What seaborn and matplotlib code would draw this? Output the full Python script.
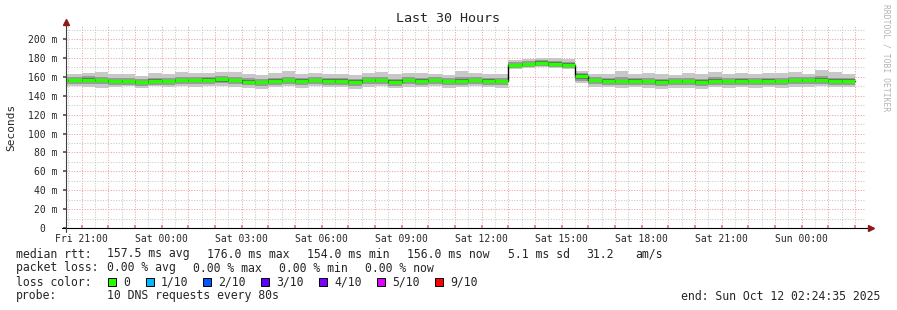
import numpy as np
import pandas as pd
import matplotlib
matplotlib.use("Agg")
import matplotlib.pyplot as plt
import matplotlib.dates as mdates
from matplotlib.ticker import MultipleLocator, FuncFormatter
from matplotlib.patches import Rectangle
from matplotlib.lines import Line2D
import seaborn as sns

# ---------------- data ----------------
seg_start = "2025-10-10 20:00"
seg_freq = "30min"
view_start = pd.Timestamp("2025-10-10 20:24:35")
view_end = pd.Timestamp("2025-10-12 02:24:35")

median = [156.5, 156.5, 157.0, 156.8, 155.8, 155.5, 154.5, 156.0, 155.5, 156.8, 156.5,
          157.0, 157.5, 156.5, 155.0, 154.5, 156.0, 156.5, 156.0, 156.5, 156.0,
          156.0, 155.0, 156.5, 156.5, 155.0, 156.5, 156.0, 156.5, 155.5, 156.0, 156.5,
          156.0, 155.5,
          172.5, 173.5, 175.0, 174.0, 173.0,
          161.0,
          156.5,
          156.0, 155.5, 156.0, 155.5, 155.0, 155.5, 155.5, 155.0, 156.0, 155.5, 156.0,
          155.5, 156.0, 155.5, 156.5, 156.5, 157.0, 156.0, 156.0]

outer_hi = [163, 163, 164, 165, 163, 163, 161, 164, 163, 165, 164,
            164, 165, 165, 163, 162, 164, 166, 163, 164, 163,
            163, 162, 164, 165, 163, 164, 164, 163, 162, 166, 164,
            163, 163,
            178, 179, 180, 180, 179,
            166,
            163,
            163, 166, 163, 164, 163, 162, 164, 163, 165, 163, 164,
            163, 164, 164, 165, 163, 167, 165, 163]
outer_lo = [149, 150, 149, 148, 149, 150, 148, 150, 149, 150, 149,
            150, 150, 149, 148, 147, 149, 150, 148, 150, 149,
            149, 147, 149, 150, 148, 149, 149, 150, 148, 149, 150,
            149, 148,
            168, 169, 170, 169, 168,
            153,
            149,
            149, 148, 149, 148, 147, 148, 148, 147, 149, 148, 149,
            148, 149, 148, 149, 149, 150, 149, 149]
mid_hi = [160, 160, 161, 160, 159, 159, 158, 159, 159, 160, 160,
          160, 161, 160, 159, 158, 159, 160, 159, 160, 159,
          159, 158, 160, 160, 158, 160, 159, 160, 159, 160, 160,
          159, 159,
          176, 177, 178, 177, 176,
          164,
          160,
          159, 160, 159, 159, 158, 159, 159, 158, 160, 159, 159,
          159, 159, 159, 160, 160, 161, 159, 159]
mid_lo = [152, 152, 152, 152, 151, 151, 150, 151, 151, 152, 152,
          152, 153, 152, 151, 150, 151, 152, 151, 152, 151,
          151, 150, 152, 152, 150, 152, 151, 152, 151, 151, 152,
          151, 151,
          169, 170, 171, 170, 169,
          156,
          152,
          151, 151, 151, 151, 150, 151, 151, 150, 151, 151, 151,
          151, 151, 151, 152, 152, 152, 151, 151]
dark_hi = [158, 158, 158.5, 158, 157, 157, 156, 157.5, 157, 158, 158,
           158.5, 159, 158, 156.5, 156, 157.5, 158, 157.5, 158, 157.5,
           157.5, 156.5, 158, 158, 156.5, 158, 157.5, 158, 157, 157.5, 158,
           157.5, 157,
           174, 175, 176.5, 175.5, 174.5,
           162.5,
           158,
           157.5, 157, 157.5, 157, 156.5, 157, 157, 156.5, 157.5, 157, 157.5,
           157, 157.5, 157, 158, 158, 158.5, 157.5, 157.5]
dark_lo = [154, 154, 154, 154, 153, 153, 152, 153, 153, 154, 154,
           154, 155, 154, 152, 152, 153, 154, 153, 154, 153,
           153, 152, 154, 154, 152, 154, 153, 154, 153, 153, 154,
           153, 153,
           170, 171, 172, 171, 170,
           158,
           154,
           153, 153, 153, 153, 152, 153, 153, 152, 153, 153, 153,
           153, 153, 153, 154, 154, 154, 153, 153]

y_ticks = [0, 20, 40, 60, 80, 100, 120, 140, 160, 180, 200]

title = "Last 30 Hours"
y_label = "Seconds"
watermark = "RRDTOOL / TOBI OETIKER"
rtt_items = ["median rtt:", "157.5 ms avg", "176.0 ms max", "154.0 ms min",
             "156.0 ms now", "5.1 ms sd", "31.2", "am/s"]
loss_items = ["packet loss:", "0.00 % avg", "0.00 % max", "0.00 % min", "0.00 % now"]
loss_labels = ["0", "1/10", "2/10", "3/10", "4/10", "5/10", "9/10"]
loss_colors = ["#26ff00", "#00b8ff", "#0059ff", "#5e00ff", "#7e00ff", "#dd00ff", "#ff0000"]
probe_text = "10 DNS requests every 80s"
end_text = "end: Sun Oct 12 02:24:35 2025"

# ---------------- style ----------------
sns.set_theme(style="white")
plt.rcParams["font.family"] = ["DejaVu Sans Mono"]

W, H = 897, 310
fig = plt.figure(figsize=(W / 100, H / 100), dpi=100)
fig.patch.set_facecolor("white")


def fx(px):
    return px / W


def fy(py):
    return 1 - py / H


ax = fig.add_axes([fx(66), fy(228), fx(866) - fx(66), fy(26) - fy(228)])
ax.set_facecolor("white")

edges = pd.date_range(seg_start, periods=len(median) + 1, freq=seg_freq)


def ext(a):
    a = np.asarray(a, dtype=float)
    return np.append(a, a[-1])


ax.fill_between(edges, ext(outer_lo), ext(outer_hi), step="post", color="#c8c8c8", lw=0, zorder=2)
ax.fill_between(edges, ext(mid_lo), ext(mid_hi), step="post", color="#9a9a9a", lw=0, zorder=3)
ax.fill_between(edges, ext(dark_lo), ext(dark_hi), step="post", color="#636363", lw=0, zorder=4)

sns.lineplot(x=edges, y=ext(median), drawstyle="steps-post", color="black", lw=1.0,
             ax=ax, estimator=None, zorder=5)
ax.hlines(median, edges[:-1], edges[1:], color=loss_colors[0], lw=2.5, zorder=6)

ax.set_xlim(view_start, view_end)
ax.set_ylim(0, 213.8)

# grid
ax.xaxis.set_major_locator(mdates.HourLocator(interval=1))
ax.xaxis.set_minor_locator(mdates.MinuteLocator(byminute=[30]))


def xfmt(v, pos):
    d = mdates.num2date(v)
    return d.strftime("%a %H:%M") if d.hour % 3 == 0 else ""


ax.xaxis.set_major_formatter(FuncFormatter(xfmt))
ax.yaxis.set_major_locator(MultipleLocator(20))
ax.yaxis.set_minor_locator(MultipleLocator(10))
ax.set_yticks(y_ticks)
ax.set_yticklabels([f"{v} m" if v else "0  " for v in y_ticks])

dot = (0, (1, 1.5))
ax.grid(which="major", color="#f2a0a0", linestyle=dot, lw=0.75, zorder=1)
ax.grid(which="minor", color="#c8c8c8", linestyle=dot, lw=0.75, zorder=1)
ax.set_axisbelow(True)

ax.tick_params(axis="x", which="major", length=2, color="#e08080", direction="in",
               labelsize=7.0, pad=4.5, bottom=True)
ax.tick_params(axis="x", which="minor", length=0)
ax.tick_params(axis="y", which="major", length=2, color="#555555", direction="out",
               labelsize=7.0, pad=4, left=True)
ax.tick_params(axis="y", which="minor", length=0)
for s in ["top", "right", "left", "bottom"]:
    ax.spines[s].set_visible(False)
ax.set_xlabel("")
ax.set_ylabel("")

# axes lines with arrows
fig.add_artist(Line2D([fx(62), fx(870)], [fy(228), fy(228)], color="black", lw=0.8,
                      transform=fig.transFigure))
fig.add_artist(Line2D([fx(66), fx(66)], [fy(232), fy(24)], color="#404040", lw=0.8,
                      transform=fig.transFigure))
fig.add_artist(Line2D([fx(871)], [fy(228)], marker=">", markersize=4, color="#8b1a1a",
                      lw=0, transform=fig.transFigure))
fig.add_artist(Line2D([fx(66)], [fy(22)], marker="^", markersize=4, color="#8b1a1a",
                      lw=0, transform=fig.transFigure))

# texts
fig.text(fx(448), fy(19), title, ha="center", va="center", fontsize=9.6)
fig.text(fx(11), fy(127), y_label, ha="center", va="center", rotation=90, fontsize=8.0)
fig.text(fx(886), fy(4), watermark, ha="center", va="top", rotation=-90,
         fontsize=5.8, color="#b4b4b4")

fs = 8.3
rtt_x = [16, 107, 207, 307, 407, 508, 586, 635]
for s, x in zip(rtt_items, rtt_x):
    fig.text(fx(x), fy(254), s, ha="left", va="center", fontsize=fs)
loss_x = [16, 107, 193, 279, 365]
for s, x in zip(loss_items, loss_x):
    fig.text(fx(x), fy(268), s, ha="left", va="center", fontsize=fs)
fig.text(fx(16), fy(282), "loss color:", ha="left", va="center", fontsize=fs)
box_x = [108, 146, 203, 261, 319, 377, 435]
for lab, col, x in zip(loss_labels, loss_colors, box_x):
    fig.add_artist(Rectangle((fx(x), fy(286)), fx(8), 8 / H, facecolor=col,
                             edgecolor="black", lw=0.7, transform=fig.transFigure))
    fig.text(fx(x + 15), fy(282), lab, ha="left", va="center", fontsize=fs)
fig.text(fx(16), fy(296), "probe:", ha="left", va="center", fontsize=fs)
fig.text(fx(107), fy(296), probe_text, ha="left", va="center", fontsize=fs)
fig.text(fx(880), fy(296), end_text, ha="right", va="center", fontsize=fs)

fig.savefig("out.png", dpi=100, facecolor="white")
